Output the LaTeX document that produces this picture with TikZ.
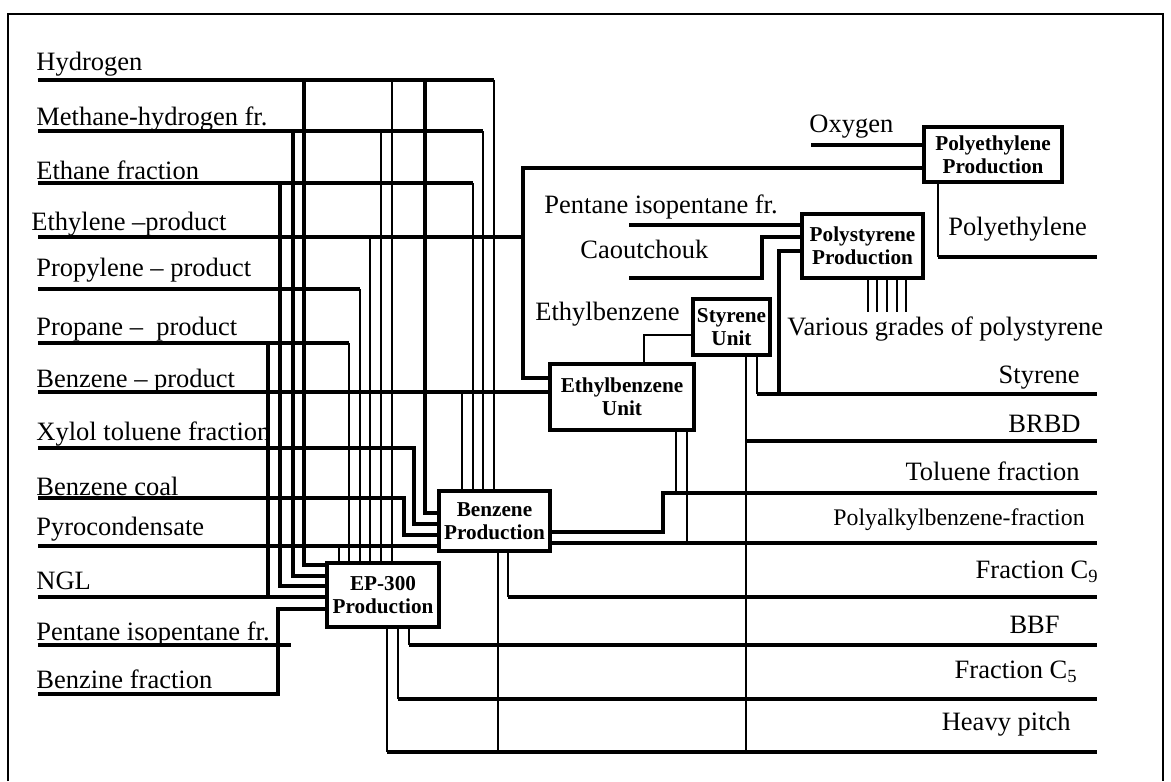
\documentclass[tikz,border=0pt]{standalone}
\usepackage{fontspec}
\setmainfont{Liberation Serif}
\begin{document}
\begin{tikzpicture}[x=0.5pt,y=-0.5pt,
  tk/.style={line width=1.6pt,line join=miter},
  tn/.style={line width=0.65pt},
  box/.style={draw,line width=1.6pt,font=\bfseries\fontsize{10.6}{11.5}\selectfont,align=center,inner sep=0pt},
  lbl/.style={font=\fontsize{13.25}{15}\selectfont,inner sep=0pt},
  slbl/.style={font=\fontsize{11.9}{14}\selectfont,inner sep=0pt}]
\useasboundingbox (0,0) rectangle (1171,781);
\draw[line width=0.9pt] (8,781) -- (8,14) -- (1163,14) -- (1163,781);

% boxes
\node[box,minimum width=69pt,minimum height=27.5pt] (PE) at (993,154.5) {Polyethylene\\Production};
\node[box,minimum width=60.5pt,minimum height=32pt] (PS) at (862.5,246) {Polystyrene\\Production};
\node[box,minimum width=38.5pt,minimum height=28pt] (SU) at (731.5,327) {Styrene\\Unit};
\node[box,minimum width=72pt,minimum height=33pt] (EB) at (622,397) {Ethylbenzene\\Unit};
\node[box,minimum width=55.5pt,minimum height=30pt] (BP) at (494.5,521) {Benzene\\Production};
\node[box,minimum width=56pt,minimum height=32pt] (EP) at (383,595) {EP-300\\Production};

% left labels
\node[lbl,anchor=base west] (tH) at (36,71) {Hydrogen};
\node[lbl,anchor=base west] (tM) at (36,126) {Methane-hydrogen fr.};
\node[lbl,anchor=base west] (tEa) at (36,179) {Ethane fraction};
\node[lbl,anchor=base west] (tEy) at (31,230) {Ethylene –product};
\node[lbl,anchor=base west] (tPy) at (36,276) {Propylene – product};
\node[lbl,anchor=base west] (tPa) at (36,335) {Propane –\ \ product};
\node[lbl,anchor=base west] (tB) at (36,387) {Benzene – product};
\node[lbl,anchor=base west] (tX) at (36,440) {Xylol toluene fraction};
\node[lbl,anchor=base west] (tBc) at (36,495) {Benzene coal};
\node[lbl,anchor=base west] (tPc) at (36,535) {Pyrocondensate};
\node[lbl,anchor=base west] (tN) at (36,589) {NGL};
\node[lbl,anchor=base west] (tPi) at (36,640) {Pentane isopentane fr.};
\node[lbl,anchor=base west] (tBf) at (36,688) {Benzine fraction};

% middle labels
\node[lbl,anchor=base west] (tO) at (809,133) {Oxygen};
\node[lbl,anchor=base west] (tPE) at (948,235) {Polyethylene};
\node[lbl,anchor=base west] (tPi2) at (544,213) {Pentane isopentane fr.};
\node[lbl,anchor=base west] (tCa) at (580,258) {Caoutchouk};
\node[lbl,anchor=base west] (tEbz) at (535,320) {Ethylbenzene};
\node[lbl,anchor=base west] (tVg) at (787,335) {Various grades of polystyrene};

% right labels
\node[lbl,anchor=base east] (tSt) at (1080,383) {Styrene};
\node[lbl,anchor=base east] (tBR) at (1081,432) {BRBD};
\node[lbl,anchor=base east] (tTo) at (1080,480) {Toluene fraction};
\node[slbl,anchor=base east] (tPa2) at (1085,525) {Polyalkylbenzene-fraction};
\node[lbl,anchor=base east] (tC9) at (1099,578) {Fraction C\textsubscript{9}};
\node[lbl,anchor=base east] (tBB) at (1060,633) {BBF};
\node[lbl,anchor=base east] (tC5) at (1078,678) {Fraction C\textsubscript{5}};
\node[lbl,anchor=base east] (tHp) at (1071,730) {Heavy pitch};

% free ends
\coordinate (inH) at (38,80);
\coordinate (inM) at (38,131);
\coordinate (inEa) at (38,183);
\coordinate (inEy) at (38,237);
\coordinate (inPy) at (38,289);
\coordinate (inPa) at (38,343);
\coordinate (inB) at (38,392);
\coordinate (inX) at (38,448);
\coordinate (inBc) at (38,498);
\coordinate (inPc) at (38,546);
\coordinate (inN) at (38,597);
\coordinate (inPi) at (38,645);
\coordinate (inBf) at (38,694);
\coordinate (inO) at (811,145);
\coordinate (inPi2) at (629,225);
\coordinate (inCa) at (629,278);
\coordinate (outPE) at (1097,257);
\coordinate (outSt) at (1097,394);
\coordinate (outBR) at (1097,441);
\coordinate (outTo) at (1097,493);
\coordinate (outPa) at (1097,543);
\coordinate (outC9) at (1097,597);
\coordinate (outBB) at (1097,645);
\coordinate (outC5) at (1097,699);
\coordinate (outHp) at (1097,752);

% Hydrogen
\draw[tk] (inH) -- (494,80);
\draw[tn] (494,80) -- (BP.north -| 494,0);
\draw[tn] (392,80) -- (EP.north -| 392,0);
\draw[tk] (304,80) |- (EP.west |- 0,565);
\draw[tk] (425,80) |- (BP.west |- 0,513);
% Methane-hydrogen
\draw[tk] (inM) -- (483,131);
\draw[tn] (483,131) -- (BP.north -| 483,0);
\draw[tn] (381,131) -- (EP.north -| 381,0);
\draw[tk] (293,131) |- (EP.west |- 0,576);
% Ethane
\draw[tk] (inEa) -- (473,183);
\draw[tn] (473,183) -- (BP.north -| 473,0);
\draw[tk] (280,183) |- (EP.west |- 0,586);
% Ethylene
\draw[tk] (inEy) -- (523,237);
\draw[tn] (370,237) -- (EP.north -| 370,0);
\draw[tk] (EB.west |- 0,378) -| (523,168) -- (PE.west |- 0,168);
% Propylene
\draw[tk] (inPy) -- (360,289);
\draw[tn] (360,289) -- (EP.north -| 360,0);
% Propane
\draw[tk] (inPa) -- (349,343);
\draw[tn] (349,343) -- (EP.north -| 349,0);
\draw[tk] (268,343) -- (268,597);
% Benzene product
\draw[tk] (inB) -- (EB.west |- 0,392);
\draw[tn] (462,392) -- (BP.north -| 462,0);
% Xylol, benzene coal, pyrocondensate
\draw[tk] (inX) -| (414,524) -- (BP.west |- 0,524);
\draw[tk] (inBc) -| (404,535) -- (BP.west |- 0,535);
\draw[tk] (inPc) -- (BP.west |- 0,546);
\draw[tn] (339,546) -- (EP.north -| 339,0);
% NGL, pentane, benzine
\draw[tk] (inN) -- (EP.west |- 0,597);
\draw[tk] (inPi) -- (291,645);
\draw[tk] (inBf) -| (278,609) -- (EP.west |- 0,609);

% EP-300 outputs
\draw[tn] (EP.south -| 409,0) -- (409,645);
\draw[tk] (409,645) -- (outBB);
\draw[tn] (EP.south -| 398,0) -- (398,699);
\draw[tk] (398,699) -- (outC5);
\draw[tn] (EP.south -| 387,0) -- (387,752);
\draw[tk] (387,752) -- (outHp);
% Benzene production outputs
\draw[tn] (BP.south -| 498,0) -- (498,752);
\draw[tn] (BP.south -| 508,0) -- (508,597);
\draw[tk] (508,597) -- (outC9);
\draw[tk] (BP.east |- 0,532) -| (663,493) -- (outTo);
\draw[tk] (BP.east |- 0,543) -- (outPa);
% Ethylbenzene unit
\draw[tn] (EB.south -| 676,0) -- (676,493);
\draw[tn] (EB.south -| 687,0) -- (687,543);
\draw[tn] (EB.north -| 644,0) |- (SU.west |- 0,335);
% Styrene unit
\draw[tn] (SU.south -| 746,0) -- (746,752);
\draw[tk] (746,441) -- (outBR);
\draw[tn] (SU.south -| 757,0) -- (757,394);
\draw[tk] (757,394) -- (outSt);
\draw[tk] (779,394) |- (PS.west |- 0,251);
% Polystyrene
\draw[tk] (inPi2) -- (PS.west |- 0,225);
\draw[tk] (inCa) -| (762,237) -- (PS.west |- 0,237);
\foreach \x in {868,877,887,897,906} \draw[tn] (PS.south -| \x,0) -- (\x,312);
% Polyethylene
\draw[tk] (inO) -- (PE.west |- 0,145);
\draw[tn] (PE.south -| 938,0) -- (938,257);
\draw[tk] (938,257) -- (outPE);
\end{tikzpicture}
\end{document}
